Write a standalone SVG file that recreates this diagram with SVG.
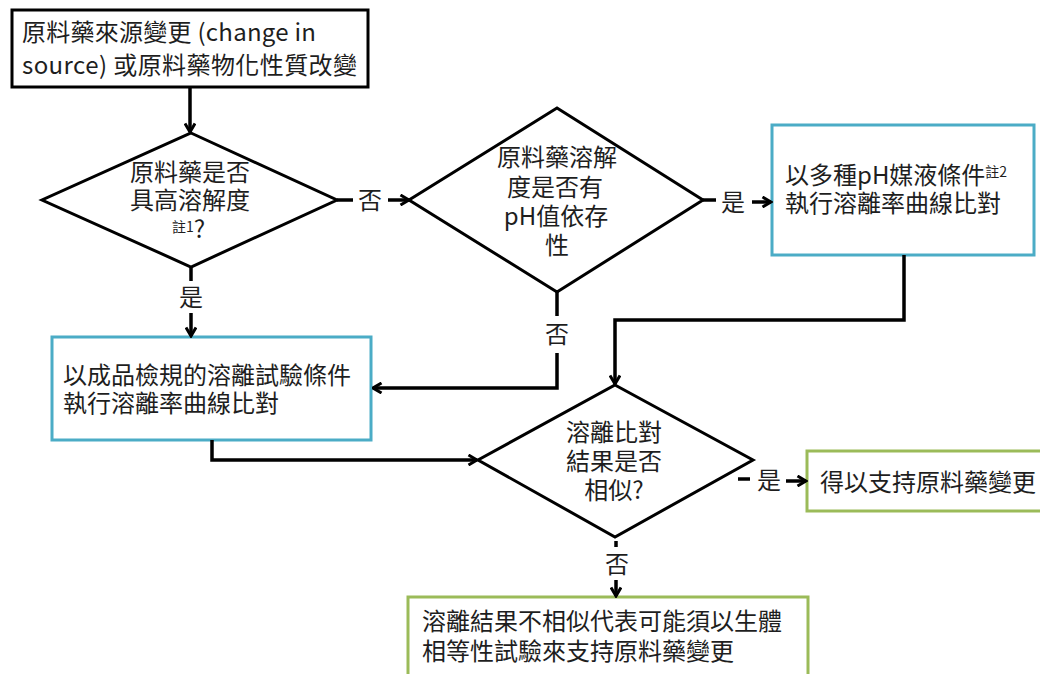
<svg xmlns="http://www.w3.org/2000/svg" width="1040" height="674" viewBox="0 0 1040 674">
<style>
text{font-family:"Noto Sans CJK TC","Noto Sans CJK SC",sans-serif;font-size:24px;fill:#1e1e1e}
.c{text-anchor:middle}
.sm{font-size:14px}
.node{fill:#fff;stroke-width:3}
.blk{stroke:#000}
.blue{stroke:#4BACC6}
.green{stroke:#9BBB59}
.conn path{fill:none;stroke:#000;stroke-width:3.5}
</style>
<defs>
<marker id="ah" viewBox="0 0 12 12" refX="10.5" refY="6" markerWidth="12" markerHeight="12" markerUnits="userSpaceOnUse" orient="auto">
<path d="M2,1 L10.5,6 L2,11" fill="none" stroke="#000" stroke-width="3"/>
</marker>
</defs>
<rect width="1040" height="674" fill="#fff"/>

<g id="start">
<rect class="node blk" x="12" y="10" width="356" height="77"/>
<text x="22" y="41" textLength="294" lengthAdjust="spacing">原料藥來源變更 (change in</text>
<text x="22" y="74" textLength="335" lengthAdjust="spacing">source) 或原料藥物化性質改變</text>
</g>

<g id="d1">
<polygon class="node blk" points="191,133 337,200 191,267 42,200"/>
<text class="c" x="190" y="181">原料藥是否</text>
<text class="c" x="190" y="209">具高溶解度</text>
<text x="172" y="238"><tspan class="sm" dy="-6">註1</tspan><tspan dy="6">?</tspan></text>
</g>

<g id="d2">
<polygon class="node blk" points="557,108 703,200 557,292 409,200"/>
<text class="c" x="557" y="166">原料藥溶解</text>
<text class="c" x="555" y="195.5">度是否有</text>
<text class="c" x="556" y="225">pH值依存</text>
<text class="c" x="557" y="254">性</text>
</g>

<g id="multi">
<rect class="node blue" x="772" y="125" width="262" height="130"/>
<text x="785" y="184">以多種pH媒液條件<tspan class="sm" dy="-7">註2</tspan></text>
<text x="785" y="212">執行溶離率曲線比對</text>
</g>

<g id="spec">
<rect class="node blue" x="52" y="337" width="319" height="103"/>
<text x="63" y="384">以成品檢規的溶離試驗條件</text>
<text x="63" y="412">執行溶離率曲線比對</text>
</g>

<g id="d3">
<polygon class="node blk" points="615,385 753,460 615,537 478,460"/>
<text class="c" x="614" y="441">溶離比對</text>
<text class="c" x="614" y="469.5">結果是否</text>
<text class="c" x="614" y="499">相似?</text>
</g>

<g id="ok">
<rect class="node green" x="807" y="451" width="250" height="60"/>
<text x="820" y="491">得以支持原料藥變更</text>
</g>

<g id="bio">
<rect class="node green" x="408" y="597" width="400" height="100"/>
<text x="422" y="630">溶離結果不相似代表可能須以生體</text>
<text x="422" y="660">相等性試驗來支持原料藥變更</text>
</g>

<g id="connectors" class="conn">
<path d="M190,87 V132" marker-end="url(#ah)"/>
<path d="M337,200 H353"/>
<path d="M388,200 H409" marker-end="url(#ah)"/>
<path d="M191,267 V281"/>
<path d="M191,313 V336" marker-end="url(#ah)"/>
<path d="M703,200 H716"/>
<path d="M752,202 H771" marker-end="url(#ah)"/>
<path d="M557,292 V316"/>
<path d="M557,353 V388 H373" marker-end="url(#ah)"/>
<path d="M904,255 V320 H615 V384" marker-end="url(#ah)"/>
<path d="M212,440 V460 H477" marker-end="url(#ah)"/>
<path d="M738,479 H750"/>
<path d="M786,481 H806" marker-end="url(#ah)"/>
<path d="M616,541 V547"/>
<path d="M616,580 V596" marker-end="url(#ah)"/>
</g>
<g id="labels">
<text class="c" x="370" y="209">否</text>
<text class="c" x="191" y="306">是</text>
<text class="c" x="733" y="211">是</text>
<text class="c" x="557" y="343">否</text>
<text class="c" x="769" y="489">是</text>
<text class="c" x="617" y="573">否</text>
</g>
</svg>
